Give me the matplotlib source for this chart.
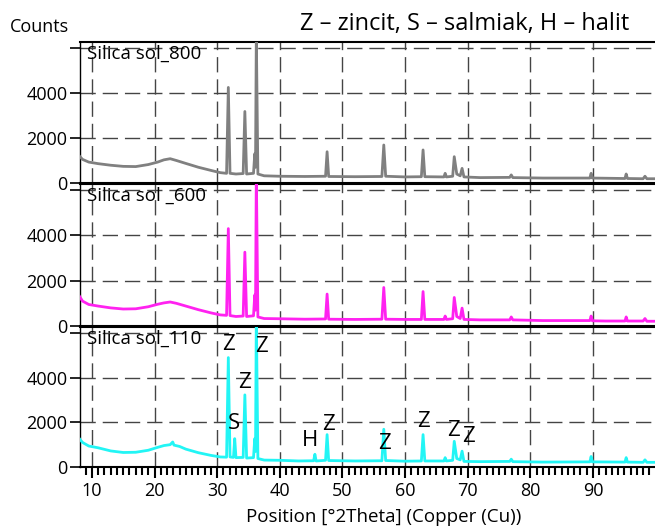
import numpy as np
import matplotlib.pyplot as plt
from matplotlib.ticker import MultipleLocator

plt.rcParams['font.family'] = ['Open Sans', 'DejaVu Sans']

# patterns: 2Theta (deg) and counts
x_800 = [8.0, 8.5, 9.5, 11, 13, 15, 17, 19, 20.5, 21.5, 22.5, 23.5, 25, 27, 29, 30.5, 31.5,
         31.78, 32.05, 33.0, 34.15, 34.42, 34.7, 35.8, 36.0, 36.12, 36.25, 36.5, 37.5, 40, 44,
         47.3, 47.55, 47.8, 52, 56.3, 56.6, 56.9, 60, 62.6, 62.87, 63.15, 66.2, 66.4, 66.6,
         67.6, 67.85, 68.25, 68.8, 69.1, 69.4, 72, 76.7, 76.95, 77.2, 82, 89.5, 89.7, 89.9,
         95.1, 95.3, 95.5, 98.0, 98.3, 98.6, 100]
y_800 = [1200, 1050, 930, 860, 790, 740, 730, 820, 930, 1030, 1080, 1000, 870, 700, 560, 460, 430,
         4250, 430, 400, 420, 3180, 400, 430, 1300, 700, 6600, 400, 320, 300, 290,
         300, 1390, 290, 280, 290, 1690, 300, 270, 280, 1470, 280, 270, 430, 270,
         300, 1170, 400, 320, 650, 270, 240, 250, 360, 240, 220, 220, 430, 220,
         200, 400, 200, 190, 300, 190, 190]

x_600 = [8.0, 8.5, 9.5, 11, 13, 15, 17, 19, 20.5, 21.5, 22.5, 23.5, 25, 27, 29, 30.5, 31.5,
         31.78, 32.05, 33.0, 34.15, 34.42, 34.7, 35.8, 36.0, 36.12, 36.25, 36.5, 37.5, 40, 44,
         47.3, 47.55, 47.8, 52, 56.3, 56.6, 56.9, 60, 62.6, 62.87, 63.15, 66.2, 66.4, 66.6,
         67.6, 67.85, 68.25, 68.8, 69.1, 69.4, 72, 76.7, 76.95, 77.2, 82, 89.5, 89.7, 89.9,
         92, 95.1, 95.3, 95.5, 98.0, 98.3, 98.6, 100]
y_600 = [1320, 1100, 950, 880, 800, 750, 760, 850, 960, 1020, 1060, 1000, 880, 720, 580, 490, 470,
         4300, 460, 420, 440, 3260, 420, 450, 1370, 700, 6800, 400, 330, 320, 300,
         310, 1410, 300, 290, 300, 1700, 300, 290, 290, 1520, 290, 290, 440, 290,
         320, 1260, 420, 330, 790, 290, 270, 270, 400, 270, 240, 240, 440, 230,
         220, 220, 400, 220, 220, 330, 210, 210]

x_110 = [8.0, 8.5, 9.5, 11, 13, 15, 17, 19, 20.5, 21.5, 22.5, 22.9, 23.1, 24, 25, 27, 29, 30.5,
         31.5, 31.78, 32.05, 32.6, 32.8, 33.0, 34.15, 34.42, 34.7, 35.8, 36.0, 36.12, 36.25,
         36.5, 37.5, 40, 43, 45.4, 45.6, 45.8, 47.3, 47.55, 47.8, 52, 56.3, 56.6, 56.9, 60,
         62.6, 62.87, 63.15, 66.2, 66.4, 66.6, 67.6, 67.85, 68.25, 68.8, 69.1, 69.4, 72,
         76.7, 76.95, 77.2, 82, 89.5, 89.7, 89.9, 95.1, 95.3, 95.5, 98, 98.3, 98.6, 100]
y_110 = [1270, 1100, 940, 860, 720, 650, 660, 750, 880, 960, 1000, 1120, 980, 920, 800, 640, 520, 450,
         440, 4900, 450, 430, 1270, 420, 430, 3230, 400, 420, 1270, 700, 6800,
         380, 310, 300, 270, 280, 570, 270, 300, 1450, 290, 270, 280, 1690, 290, 260,
         270, 1450, 270, 270, 420, 270, 300, 1150, 380, 320, 710, 250, 240,
         250, 350, 240, 220, 230, 470, 230, 220, 420, 220, 210, 320, 210, 210]

names = ['Silica sol_800', 'Silica sol _600', 'Silica sol_110']
colors = ['#808080', '#ff22f0', '#22f5f5']

# phase letters on the bottom pattern
phase_lbl = ['Z', 'Z', 'Z', 'S', 'H', 'Z', 'Z', 'Z', 'Z', 'Z']
phase_x = [31.85, 37.1, 34.4, 32.65, 44.9, 47.8, 56.7, 62.95, 67.7, 70.1]
phase_y = [5500, 5400, 3800, 1950, 1200, 1900, 1070, 2040, 1640, 1380]

fig = plt.figure(figsize=(6.55, 5.28), dpi=100)

left = 80 / 655
rects = [(42, 183), (184, 326), (327, 467)]
data = [(x_800, y_800), (x_600, y_600), (x_110, y_110)]

for i, (top, bot) in enumerate(rects):
    ax = fig.add_axes([left, 1 - bot / 528, 1 - left, (bot - top) / 528])
    xs, ys = data[i]
    ax.plot(xs, ys, color=colors[i], lw=2, zorder=3)
    ax.set_xlim(8.1, 99.9)
    ax.set_ylim(0, 6270)

    # dashed grid
    for g in range(10, 100, 10):
        ax.axvline(g, color='#444444', lw=1, dashes=(11, 5), zorder=1)
    for g in [2000, 4000, 6000]:
        ax.axhline(g, color='#444444', lw=1, dashes=(11, 5), zorder=1)

    ax.set_yticks([0, 2000, 4000, 6000], labels=['0', '2000', '4000', ''])
    ax.tick_params(axis='y', direction='out', length=7, width=1.2, labelsize=13, pad=2)
    ax.spines['right'].set_visible(False)
    ax.spines['left'].set_linewidth(1.0)
    ax.spines['top'].set_linewidth(1.5)
    ax.spines['bottom'].set_linewidth(1.5)

    ax.text(0.012, 0.98, names[i], transform=ax.transAxes, ha='left', va='top', fontsize=13.5)

    if i < 2:
        ax.tick_params(axis='x', bottom=False, labelbottom=False)
    else:
        ax.set_xticks(range(10, 100, 10))
        ax.xaxis.set_minor_locator(MultipleLocator(1))
        ax.tick_params(axis='x', which='major', direction='out', length=8, width=1.5,
                       labelsize=13, pad=3)
        ax.tick_params(axis='x', which='minor', direction='out', length=6, width=1.5)
        for lbl, px, py in zip(phase_lbl, phase_x, phase_y):
            ax.text(px, py, lbl, ha='center', va='center', fontsize=16, zorder=4)

fig.text(10 / 655, 1 - 27 / 528, 'Counts', ha='left', va='center', fontsize=13)
fig.text(465 / 655, 1 - 24 / 528, 'Z – zincit, S – salmiak, H – halit',
         ha='center', va='center', fontsize=17)
fig.text(384 / 655, 1 - 517 / 528, 'Position [°2Theta] (Copper (Cu))',
         ha='center', va='center', fontsize=13.5)

fig.savefig('out.png', dpi=100)
